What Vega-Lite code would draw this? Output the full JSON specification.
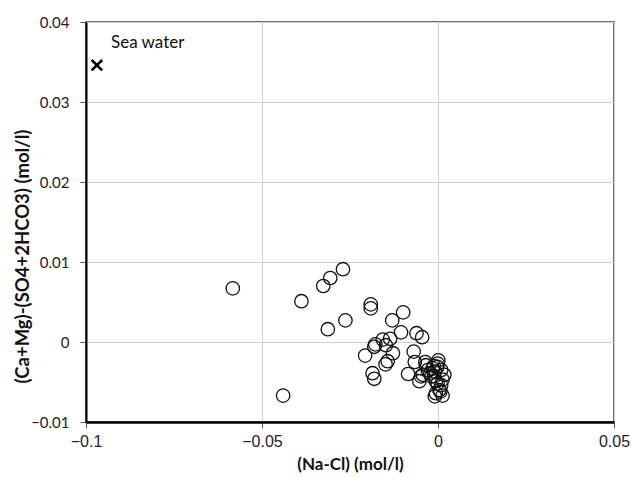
{
  "$schema": "https://vega.github.io/schema/vega-lite/v6.json",
  "autosize": "none",
  "width": 528,
  "height": 400,
  "padding": {"left": 86, "top": 22, "right": 17, "bottom": 56},
  "background": "white",
  "config": {
    "view": {"stroke": "#404040", "strokeWidth": 1.5},
    "axis": {"gridColor": "#d0d0d0", "gridWidth": 1, "domainColor": "#000", "tickColor": "#555", "tickSize": 6, "labelColor": "#222", "titleColor": "#111"}
  },
  "datasets": {
    "samples": [
      {"nacl": -0.0583, "camg": 0.0067},
      {"nacl": -0.0388, "camg": 0.0051},
      {"nacl": -0.0326, "camg": 0.0070},
      {"nacl": -0.0306, "camg": 0.0080},
      {"nacl": -0.0270, "camg": 0.0091},
      {"nacl": -0.0313, "camg": 0.0016},
      {"nacl": -0.0263, "camg": 0.0027},
      {"nacl": -0.0440, "camg": -0.0067},
      {"nacl": -0.0191, "camg": 0.0047},
      {"nacl": -0.0191, "camg": 0.0042},
      {"nacl": -0.0099, "camg": 0.0037},
      {"nacl": -0.0130, "camg": 0.0027},
      {"nacl": -0.0105, "camg": 0.0012},
      {"nacl": -0.0061, "camg": 0.0011},
      {"nacl": -0.0045, "camg": 0.0006},
      {"nacl": -0.0207, "camg": -0.0017},
      {"nacl": -0.0181, "camg": -0.0006},
      {"nacl": -0.0178, "camg": -0.0003},
      {"nacl": -0.0157, "camg": 0.0003},
      {"nacl": -0.0136, "camg": 0.0004},
      {"nacl": -0.0148, "camg": -0.0004},
      {"nacl": -0.0128, "camg": -0.0014},
      {"nacl": -0.0143, "camg": -0.0024},
      {"nacl": -0.0149, "camg": -0.0028},
      {"nacl": -0.0069, "camg": -0.0012},
      {"nacl": -0.0066, "camg": -0.0025},
      {"nacl": -0.0186, "camg": -0.0039},
      {"nacl": -0.0181, "camg": -0.0046},
      {"nacl": -0.0085, "camg": -0.0040},
      {"nacl": -0.0053, "camg": -0.0049},
      {"nacl": -0.0048, "camg": -0.0043},
      {"nacl": -0.0036, "camg": -0.0025},
      {"nacl": -0.0009, "camg": -0.0068},
      {"nacl": 0.0013, "camg": -0.0067},
      {"nacl": 0.0004, "camg": -0.0060},
      {"nacl": -0.0001, "camg": -0.0052},
      {"nacl": -0.0011, "camg": -0.0043},
      {"nacl": -0.0022, "camg": -0.0039},
      {"nacl": -0.0001, "camg": -0.0027},
      {"nacl": 0.0009, "camg": -0.0035},
      {"nacl": 0.0018, "camg": -0.0041},
      {"nacl": -0.0015, "camg": -0.0033},
      {"nacl": -0.0029, "camg": -0.0035},
      {"nacl": -0.0006, "camg": -0.0049},
      {"nacl": 0.0009, "camg": -0.0054},
      {"nacl": 0.0007, "camg": -0.0062},
      {"nacl": -0.0006, "camg": -0.0064},
      {"nacl": -0.0002, "camg": -0.0031},
      {"nacl": -0.0009, "camg": -0.0037},
      {"nacl": -0.0019, "camg": -0.0043},
      {"nacl": 0.0013, "camg": -0.0047},
      {"nacl": -0.0034, "camg": -0.0029},
      {"nacl": -0.0043, "camg": -0.0041},
      {"nacl": 0.0001, "camg": -0.0023},
      {"nacl": -0.0012, "camg": -0.0030}
    ],
    "sea": [
      {"nacl": -0.0969, "camg": 0.0346, "label": "Sea water", "lx": -0.0929, "ly": 0.0374}
    ]
  },
  "layer": [
    {
      "data": {"name": "samples"},
      "mark": {"type": "point", "shape": "circle", "filled": false, "stroke": "#111", "strokeWidth": 1.3, "size": 180, "opacity": 1},
      "encoding": {
        "x": {"field": "nacl", "type": "quantitative",
          "scale": {"domain": [-0.1, 0.05], "nice": false, "zero": false},
          "axis": {"values": [-0.1, -0.05, 0, 0.05], "title": "(Na-Cl) (mol/l)", "domainWidth": 2.5, "labelFont": "Liberation Sans", "labelFontSize": 16, "labelPadding": 5, "titleFont": "Lato", "titleFontWeight": "bold", "titleFontSize": 17, "titlePadding": 7, "labelFlush": false, "format": "~g"}},
        "y": {"field": "camg", "type": "quantitative",
          "scale": {"domain": [-0.01, 0.04], "nice": false, "zero": false},
          "axis": {"values": [-0.01, 0, 0.01, 0.02, 0.03, 0.04], "title": "(Ca+Mg)-(SO4+2HCO3) (mol/l)", "domainWidth": 2, "labelFont": "Lato", "labelFontSize": 15, "labelPadding": 11, "titleFont": "Lato", "titleFontWeight": "bold", "titleFontSize": 18.5, "titleX": -64, "titleY": 234, "titleBaseline": "middle", "titleAlign": "center", "labelFlush": false, "format": "~g"}}
      }
    },
    {
      "data": {"name": "sea"},
      "mark": {"type": "point", "shape": "M-1,-1L1,1M1,-1L-1,1", "filled": false, "stroke": "#000", "strokeWidth": 2.6, "size": 110, "opacity": 1},
      "encoding": {
        "x": {"field": "nacl", "type": "quantitative"},
        "y": {"field": "camg", "type": "quantitative"}
      }
    },
    {
      "data": {"name": "sea"},
      "mark": {"type": "text", "align": "left", "baseline": "middle", "font": "Lato", "fontSize": 17, "color": "#111"},
      "encoding": {
        "x": {"field": "lx", "type": "quantitative"},
        "y": {"field": "ly", "type": "quantitative"},
        "text": {"field": "label"}
      }
    }
  ]
}
